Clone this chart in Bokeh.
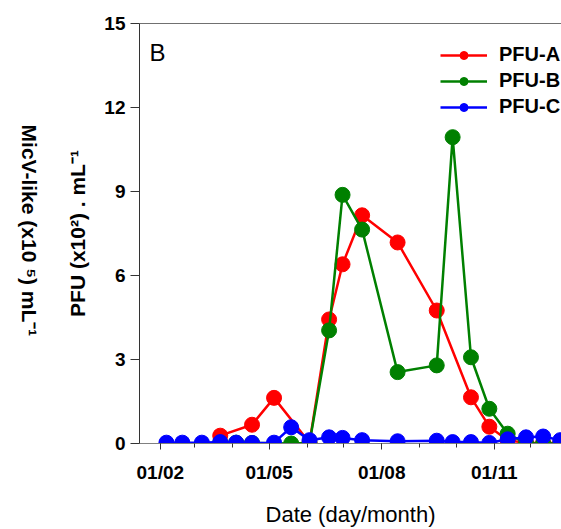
import math
import pandas as pd
from bokeh.plotting import figure
from bokeh.layouts import row
from bokeh.core.properties import value
from bokeh.models import (LinearAxis, FixedTicker, DatetimeTickFormatter, Label,
                          Legend, LegendItem, Range1d)
from bokeh.embed import file_html
from bokeh.resources import INLINE

# ---- data ----
dates_a = ["2009-03-22", "2009-04-17", "2009-05-05", "2009-06-03", "2009-06-19",
           "2009-06-30", "2009-07-16", "2009-08-14", "2009-09-15", "2009-10-13",
           "2009-10-28", "2009-11-12", "2009-11-27", "2009-12-11", "2009-12-25"]
pfu_a = [0.28, 0.67, 1.63, 0.03, 4.43, 6.40, 8.15, 7.18, 4.75, 1.65, 0.60, 0.12,
         0.02, 0.02, 0.02]

dates_b = ["2009-03-22", "2009-04-04", "2009-04-17", "2009-05-19", "2009-06-03",
           "2009-06-19", "2009-06-30", "2009-07-16", "2009-08-14", "2009-09-15",
           "2009-09-28", "2009-10-13", "2009-10-28", "2009-11-12", "2009-11-27",
           "2009-12-11", "2009-12-25"]
pfu_b = [0.03, 0.03, 0.02, 0.0, 0.02, 4.04, 8.88, 7.64, 2.55, 2.79, 10.94, 3.08,
         1.24, 0.35, 0.0, 0.0, 0.0]

dates_c = ["2009-02-06", "2009-02-19", "2009-03-07", "2009-03-22", "2009-04-04",
           "2009-04-17", "2009-05-05", "2009-05-19", "2009-06-03", "2009-06-19",
           "2009-06-30", "2009-07-16", "2009-08-14", "2009-09-15", "2009-09-28",
           "2009-10-13", "2009-10-28", "2009-11-12", "2009-11-27", "2009-12-11",
           "2009-12-25"]
pfu_c = [0.03, 0.03, 0.03, 0.05, 0.03, 0.02, 0.03, 0.58, 0.12, 0.22, 0.20, 0.12,
         0.08, 0.10, 0.05, 0.05, 0.02, 0.15, 0.22, 0.25, 0.12]

series_names = ["PFU-A", "PFU-B", "PFU-C"]
series_colors = ["#ff0000", "#008000", "#0000ff"]

major_tick_dates = ["2009-02-01", "2009-05-01", "2009-08-01", "2009-11-01"]
minor_tick_dates = ["2009-%02d-01" % m for m in range(1, 13)]
y_ticks = [0, 3, 6, 9, 12, 15]

x_start, x_end = "2009-01-15", "2009-12-26"

FONT = "Liberation Sans"
LEFT_W = 60


def ms(d):
    return pd.Timestamp(d).value / 1e6


# ---- narrow strip holding the MicV-like title (reads top-to-bottom) ----
lab = figure(width=LEFT_W, height=529, x_range=Range1d(0, 1), y_range=Range1d(0, 1),
             output_backend="svg", toolbar_location=None,
             x_axis_location=None, y_axis_location=None, min_border=0)
lab.outline_line_color = None
lab.grid.visible = False
lab.text(x=[29 / LEFT_W], y=[261 / 529], text=["MicV-like (x10   ⁵) mL⁻¹"],
         angle=-math.pi / 2, text_align="center", text_baseline="middle",
         text_font=value(FONT), text_font_size="21px", text_font_style="bold",
         text_color="black")

# ---- main chart ----
p = figure(width=561 - LEFT_W, height=529, x_axis_type="datetime",
           x_range=Range1d(pd.Timestamp(x_start), pd.Timestamp(x_end)),
           y_range=Range1d(0, 15),
           output_backend="svg", toolbar_location=None,
           min_border_left=139 - LEFT_W, min_border_right=0, min_border_top=23,
           min_border_bottom=83)
p.outline_line_color = None
p.grid.visible = False
p.background_fill_color = "white"
p.border_fill_color = "white"

# x axis
xa = p.xaxis[0]
xa.ticker = FixedTicker(ticks=[ms(d) for d in major_tick_dates],
                        minor_ticks=[ms(d) for d in minor_tick_dates])
fmt = "%d/%m"
xa.formatter = DatetimeTickFormatter(microseconds=fmt, milliseconds=fmt, seconds=fmt,
                                     minsec=fmt, minutes=fmt, hourmin=fmt, hours=fmt,
                                     days=fmt, months=fmt, years=fmt)
xa.axis_line_color = "#808080"
xa.major_tick_line_color = "#333333"
xa.minor_tick_line_color = "#333333"
xa.major_tick_in = 0
xa.major_tick_out = 6
xa.minor_tick_in = 0
xa.minor_tick_out = 4
xa.major_label_standoff = 12
xa.major_label_text_font = FONT
xa.major_label_text_font_size = "19px"
xa.major_label_text_font_style = "bold"
xa.major_label_text_color = "black"
xa.axis_label = "Date (day/month)"
xa.axis_label_text_font = FONT
xa.axis_label_text_font_size = "22px"
xa.axis_label_text_font_style = "normal"
xa.axis_label_text_color = "black"
xa.axis_label_standoff = 16

# y axis
ya = p.yaxis[0]
ya.ticker = FixedTicker(ticks=y_ticks)
ya.axis_line_color = "#333333"
ya.major_tick_line_color = "#333333"
ya.major_tick_in = 0
ya.major_tick_out = 9
ya.minor_tick_line_color = None
ya.major_label_standoff = 5
ya.major_label_text_font = FONT
ya.major_label_text_font_size = "19px"
ya.major_label_text_font_style = "bold"
ya.major_label_text_color = "black"
ya.axis_label = "PFU (x10²) . mL⁻¹"
ya.axis_label_text_font = FONT
ya.axis_label_text_font_size = "21px"
ya.axis_label_text_font_style = "bold"
ya.axis_label_text_color = "black"
ya.axis_label_standoff = 12

# top border line
top = LinearAxis(ticker=FixedTicker(ticks=[]), axis_line_color="#707070",
                 major_tick_line_color=None, minor_tick_line_color=None,
                 major_label_standoff=0, major_tick_out=0, major_tick_in=0,
                 minor_tick_out=0, minor_tick_in=0)
p.add_layout(top, "above")

# series
all_dates = [dates_a, dates_b, dates_c]
all_vals = [pfu_a, pfu_b, pfu_c]
items = []
for name, col, ds, vs in zip(series_names, series_colors, all_dates, all_vals):
    xs = [pd.Timestamp(d) for d in ds]
    ln = p.line(xs, vs, line_color=col, line_width=2.5)
    sc = p.scatter(xs, vs, size=15, fill_color=col, line_color=col, line_width=1)
    items.append(LegendItem(label=name, renderers=[ln, sc]))

legend = Legend(items=items, location=(301, 325), glyph_width=47, glyph_height=20,
                label_height=20, spacing=3, padding=0, margin=0, label_standoff=12,
                border_line_color=None, background_fill_alpha=0,
                label_text_font=FONT, label_text_font_size="20px",
                label_text_font_style="bold", label_text_color="black")
p.add_layout(legend)

p.add_layout(Label(x=10, y=391, x_units="screen", y_units="screen", text="B",
                   text_font=FONT, text_font_size="24px", text_color="black",
                   text_baseline="alphabetic"))

layout = row(lab, p, spacing=0)
open("out.html", "w").write(file_html(layout, INLINE))
